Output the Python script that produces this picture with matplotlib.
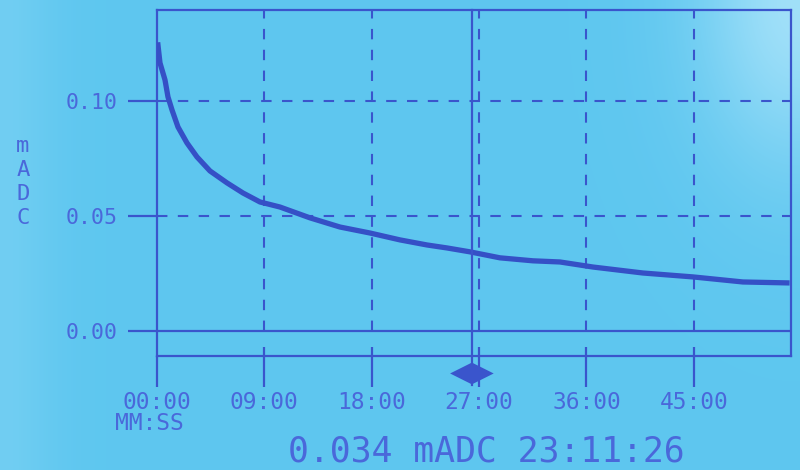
import numpy as np
import matplotlib
matplotlib.use("Agg")
import matplotlib.pyplot as plt
from matplotlib import transforms

# ---- data ----
minutes = [0.08, 0.25, 0.67, 0.92, 1.26, 1.76, 2.51, 3.35, 4.44, 5.87, 7.21, 8.63,
           10.31, 12.82, 15.34, 17.85, 20.37, 22.63, 24.31, 26.24, 28.75, 31.52,
           33.78, 36.55, 40.74, 44.93, 49.12, 52.81]
madc = [0.1244, 0.1166, 0.1092, 0.1018, 0.0961, 0.0887, 0.0818, 0.0757, 0.0696,
        0.0644, 0.0600, 0.0561, 0.0539, 0.0492, 0.0452, 0.0426, 0.0396, 0.0374,
        0.0361, 0.0344, 0.0318, 0.0305, 0.0300, 0.0278, 0.0252, 0.0235, 0.0213,
        0.0209]

x_ticks = [0, 9, 18, 27, 36, 45]
x_tick_labels = ["00:00", "09:00", "18:00", "27:00", "36:00", "45:00"]
y_ticks = [0.00, 0.05, 0.10]
y_tick_labels = ["0.00", "0.05", "0.10"]
y_label_letters = ["m", "A", "D", "C"]
x_unit_label = "MM:SS"
cursor_min = 26.4
readout = "0.034 mADC 23:11:26"

# ---- style ----
ink = "#3a55cc"
txt = "#4a68da"
mono = "DejaVu Sans Mono"
plt.rcParams["font.family"] = [mono, "DejaVu Sans"]

W, H = 800, 470
fig = plt.figure(figsize=(W / 100, H / 100), dpi=100)

# LCD background with a soft glare towards the top right
bg = fig.add_axes([0, 0, 1, 1], zorder=-10)
gx, gy = np.meshgrid(np.linspace(0, 1, 160), np.linspace(0, 1, 94))
base = np.array([0.37, 0.78, 0.94])
light = np.array([0.66, 0.89, 0.98])
w = np.exp(-((1 - gx) ** 2 / 0.015 + gy ** 2 / 0.12)) * 0.9 + \
    np.exp(-(gx ** 2 / 0.004)) * 0.25
img = base[None, None, :] + (light - base)[None, None, :] * w[:, :, None]
bg.imshow(np.clip(img, 0, 1), aspect="auto", extent=[0, 1, 0, 1], interpolation="bilinear")
bg.axis("off")

ax = fig.add_axes([157 / W, 1 - 356 / H, (791 - 157) / W, (356 - 10) / H])
ax.patch.set_alpha(0)
ax.set_xlim(0, 53.15)
ax.set_ylim(-0.0109, 0.1396)

for s in ax.spines.values():
    s.set_color(ink)
    s.set_linewidth(1.6)

# grid
for yv in y_ticks:
    if yv == 0:
        ax.axhline(yv, color=ink, lw=1.6, zorder=2)
    else:
        ax.axhline(yv, color=ink, lw=1.5, ls=(0, (5, 5)), zorder=2)
ax.vlines(x_ticks[1:], 0, 0.1396, color=ink, lw=1.5, linestyles=[(0, (5, 5))], zorder=2)
ax.vlines(x_ticks[1:], -0.0109, -0.007, color=ink, lw=1.6, zorder=2)

# curve
ax.plot(minutes, madc, color="#3550c6", lw=3.8, solid_joinstyle="miter", zorder=4)

# cursor
ax.axvline(cursor_min, ymin=-0.085, ymax=1, clip_on=False, color=ink, lw=1.6, zorder=5)
trans = transforms.blended_transform_factory(ax.transData, ax.transAxes)
ax.text(cursor_min, -0.05, "\u25C0\u25B6", transform=trans, ha="center", va="center",
        fontsize=21, family="DejaVu Sans", color=ink, clip_on=False)

# ticks
ax.set_xticks(x_ticks)
ax.set_xticklabels(x_tick_labels)
ax.set_yticks(y_ticks)
ax.set_yticklabels(y_tick_labels)
ax.tick_params(axis="y", direction="out", length=21, width=1.6, color=ink, pad=7,
               labelsize=15.5, labelcolor=txt)
ax.tick_params(axis="x", direction="out", length=22, width=1.6, color=ink, pad=3,
               labelsize=16.5, labelcolor=txt)

# labels
for i, ch in enumerate(y_label_letters):
    fig.text(23 / W, 1 - (146 + 24 * i) / H, ch, ha="center", va="center",
             fontsize=16, color=txt)
fig.text(149 / W, 1 - 424 / H, x_unit_label, ha="center", va="center",
         fontsize=16.5, color=txt)
fig.text(486 / W, 1 - 462 / H, readout, ha="center", va="baseline",
         fontsize=25, color=txt)

fig.savefig("out.png", dpi=100)
